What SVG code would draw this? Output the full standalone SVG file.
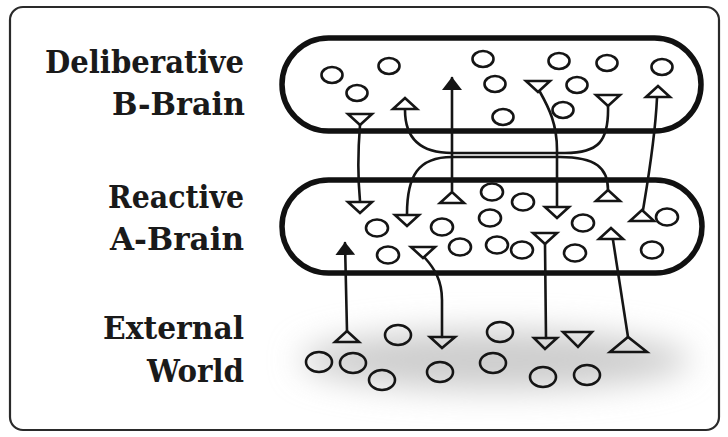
<svg xmlns="http://www.w3.org/2000/svg" width="728" height="437" viewBox="0 0 728 437">
  <style>
    .frame { fill: #ffffff; stroke: #2a2a2a; stroke-width: 2.2; }
    .label { font-family: "DejaVu Serif", "Liberation Serif", serif; font-weight: bold; font-size: 31px; fill: #1a1a1a; }
    .brain { fill: none; stroke: #111; stroke-width: 5.5; }
    .agent { fill: none; stroke: #151515; stroke-width: 2.6; }
    .link { fill: none; stroke: #151515; stroke-width: 2.6; stroke-linecap: round; }
  </style>
  <defs>
    <marker id="head" viewBox="0 0 13 20" refX="12" refY="10" markerWidth="13" markerHeight="20" markerUnits="userSpaceOnUse" orient="auto">
      <path d="M0,0 L13,10 L0,20 Z" fill="#151515"/>
    </marker>
    <path id="tri-down" d="M-12,-5 L12,-5 L0,6 Z"/>
    <path id="tri-up" d="M-12,5 L12,5 L0,-6 Z"/>
    <filter id="haze" x="-30%" y="-80%" width="160%" height="260%">
      <feGaussianBlur stdDeviation="16"/>
    </filter>
  </defs>

  <!-- outer panel -->
  <rect class="frame" x="10" y="7" width="709" height="423" rx="13"/>

  <!-- row labels -->
  <g id="label-b-brain">
    <text class="label" x="45" y="73" textLength="199" lengthAdjust="spacingAndGlyphs">Deliberative</text>
    <text class="label" x="112" y="115" textLength="133" lengthAdjust="spacingAndGlyphs">B-Brain</text>
  </g>
  <g id="label-a-brain">
    <text class="label" x="108" y="208" textLength="136" lengthAdjust="spacingAndGlyphs">Reactive</text>
    <text class="label" x="110" y="250" textLength="134" lengthAdjust="spacingAndGlyphs">A-Brain</text>
  </g>
  <g id="label-world">
    <text class="label" x="103" y="339" textLength="141" lengthAdjust="spacingAndGlyphs">External</text>
    <text class="label" x="147" y="382" textLength="97" lengthAdjust="spacingAndGlyphs">World</text>
  </g>

  <!-- deliberative layer -->
  <g id="b-brain">
    <rect class="brain" x="282" y="38" width="419" height="93" rx="46.5"/>
    <g class="agent">
      <ellipse cx="332" cy="75" rx="10.5" ry="8"/>
      <ellipse cx="389" cy="66" rx="10.5" ry="8"/>
      <ellipse cx="357" cy="93" rx="10.5" ry="8"/>
      <ellipse cx="483" cy="59" rx="10.5" ry="8"/>
      <ellipse cx="495" cy="84" rx="10.5" ry="8"/>
      <ellipse cx="503" cy="117" rx="10.5" ry="8"/>
      <ellipse cx="559" cy="61" rx="10.5" ry="8"/>
      <ellipse cx="577" cy="85" rx="10.5" ry="8"/>
      <ellipse cx="563" cy="110" rx="10.5" ry="8"/>
      <ellipse cx="607" cy="63" rx="10.5" ry="8"/>
      <ellipse cx="662" cy="67" rx="10.5" ry="8"/>
      <use href="#tri-down" x="360" y="119"/>
      <use href="#tri-up" x="405" y="104"/>
      <use href="#tri-down" x="538" y="86"/>
      <use href="#tri-down" x="608" y="100"/>
      <use href="#tri-up" x="658" y="92"/>
    </g>
  </g>

  <!-- reactive layer -->
  <g id="a-brain">
    <rect class="brain" x="282" y="180" width="420" height="93" rx="46.5"/>
    <g class="agent">
      <ellipse cx="377" cy="228" rx="11" ry="8.5"/>
      <ellipse cx="442" cy="227" rx="11" ry="8.5"/>
      <ellipse cx="492" cy="192" rx="11" ry="8.5"/>
      <ellipse cx="523" cy="202" rx="11" ry="8.5"/>
      <ellipse cx="490" cy="218" rx="11" ry="8.5"/>
      <ellipse cx="388" cy="255" rx="11" ry="8.5"/>
      <ellipse cx="460" cy="247" rx="11" ry="8.5"/>
      <ellipse cx="497" cy="245" rx="11" ry="8.5"/>
      <ellipse cx="522" cy="250" rx="11" ry="8.5"/>
      <ellipse cx="583" cy="223" rx="11" ry="8.5"/>
      <ellipse cx="575" cy="253" rx="11" ry="8.5"/>
      <ellipse cx="667" cy="217" rx="11" ry="8.5"/>
      <ellipse cx="652" cy="250" rx="11" ry="8.5"/>
      <use href="#tri-down" x="360" y="207"/>
      <use href="#tri-down" x="407" y="220"/>
      <use href="#tri-up" x="452" y="198"/>
      <use href="#tri-down" x="557" y="212"/>
      <use href="#tri-up" x="608" y="196"/>
      <use href="#tri-up" x="642" y="216"/>
      <use href="#tri-up" x="611" y="234"/>
      <use href="#tri-down" x="545" y="238"/>
      <use href="#tri-down" x="423" y="252"/>
    </g>
  </g>

  <!-- the outside world -->
  <g id="external-world">
    <ellipse cx="495" cy="360" rx="195" ry="30" fill="#cdcdcd" filter="url(#haze)"/>
    <g class="agent">
      <ellipse cx="398" cy="335" rx="13" ry="10"/>
      <ellipse cx="500" cy="332" rx="13" ry="10"/>
      <ellipse cx="319" cy="362" rx="13" ry="10"/>
      <ellipse cx="353" cy="363" rx="13" ry="10"/>
      <ellipse cx="382" cy="380" rx="13" ry="10"/>
      <ellipse cx="440" cy="372" rx="13" ry="10"/>
      <ellipse cx="493" cy="363" rx="13" ry="10"/>
      <ellipse cx="543" cy="377" rx="13" ry="10"/>
      <ellipse cx="587" cy="375" rx="13" ry="10"/>
      <path d="M335,342 L359,342 L347,331 Z"/>
      <path d="M430,337 L455,337 L442,348 Z"/>
      <path d="M534,338 L557,338 L545,349 Z"/>
      <path d="M563,332 L592,332 L578,347 Z"/>
      <path d="M610,352 L647,352 L628,337 Z"/>
    </g>
  </g>

  <!-- signal paths between layers -->
  <g id="connectors" class="link">
    <path d="M360,125 C358,150 358,180 360,201"/>
    <path d="M405,110 C405,138 420,153 452,153 L565,153 C598,153 609,142 608,106"/>
    <path d="M407,214 C407,176 418,157 452,157 L560,157 C596,157 608,168 608,190"/>
    <path d="M452,191 L452,78" marker-end="url(#head)"/>
    <path d="M540,92 C549,108 557,124 557,150 L557,206"/>
    <path d="M657,98 C655,140 648,180 643,210"/>
    <path d="M347,331 L345,243" marker-end="url(#head)"/>
    <path d="M425,258 C434,268 442,280 442,300 L442,337"/>
    <path d="M545,244 L546,338"/>
    <path d="M613,240 C619,280 624,312 628,337"/>
  </g>
</svg>
